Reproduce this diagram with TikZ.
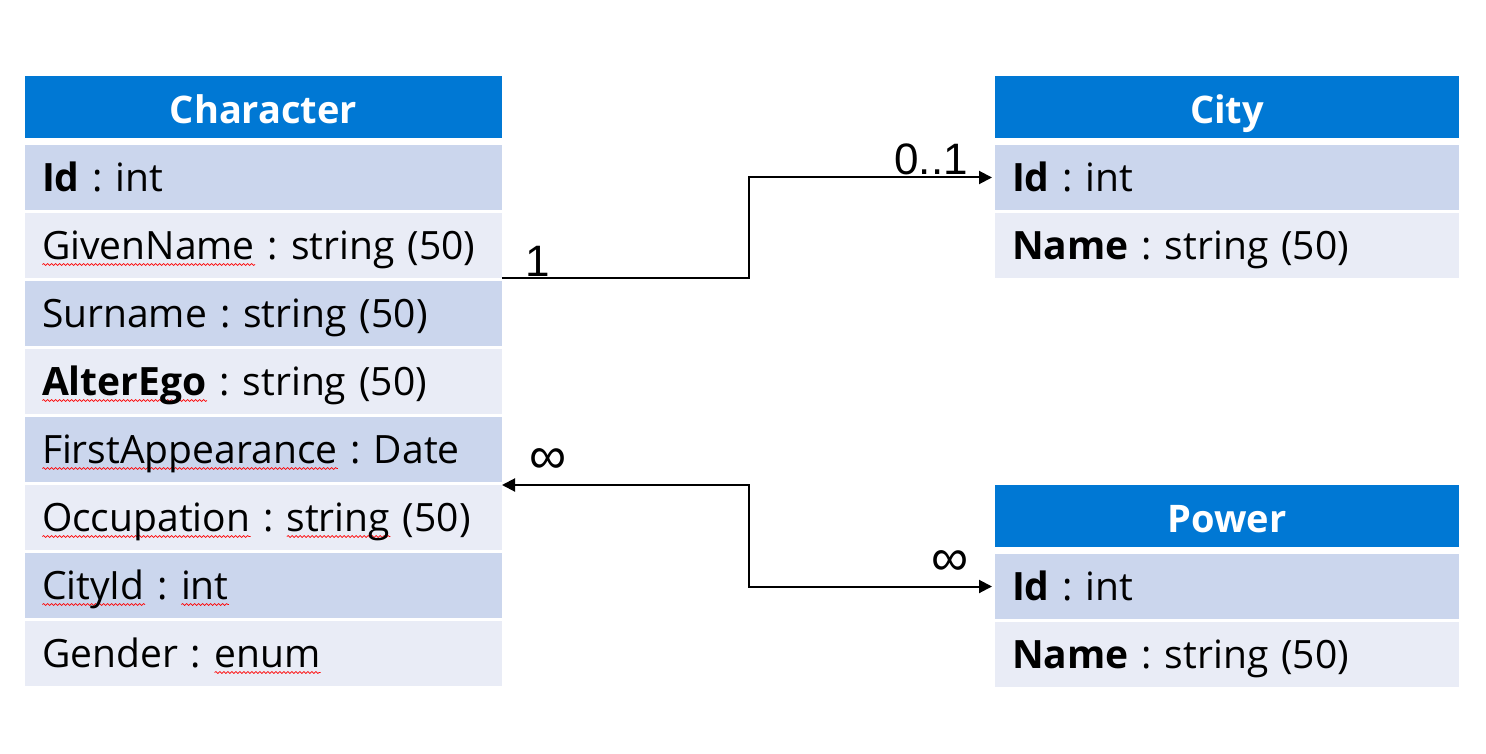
\documentclass[tikz,border=0pt]{standalone}
\usepackage{fontspec}
\setmainfont{Open Sans}
\newfontfamily\labelfont{Liberation Sans}
\usetikzlibrary{arrows.meta, positioning, calc, decorations.pathmorphing}
\frenchspacing

\definecolor{hdblue}{RGB}{0,120,212}
\definecolor{rowdark}{RGB}{203,214,237}
\definecolor{rowlight}{RGB}{233,236,246}

% red wavy underline of the spell checker
\newsavebox{\spellbox}
\newcommand{\spellchk}[1]{\sbox{\spellbox}{#1}\rlap{\raisebox{-5pt}{\tikz[baseline=0pt]\draw[red, line width=0.7pt, decorate, decoration={snake, amplitude=0.9pt, segment length=4pt}] (0pt,0pt) -- (\the\wd\spellbox,0pt);}}\usebox{\spellbox}}

\begin{document}
\begin{tikzpicture}[x=1pt, y=-1pt]
	\tikzset{>={Triangle[length=13pt, width=13pt]}, node distance=3pt,
		tbl/.style={rectangle, outer sep=0pt, inner xsep=17pt, inner ysep=0pt},
		head/.style={tbl, fill=hdblue, text=white, align=center, minimum height=62pt, text height=33pt, text depth=0pt, font=\bfseries\fontsize{38}{44}\selectfont},
		row/.style={tbl, align=left, minimum height=65pt, text height=28pt, text depth=0pt, font=\fontsize{39}{46}\selectfont},
		dark/.style={row, fill=rowdark},
		light/.style={row, fill=rowlight},
		wide/.style={minimum width=477pt, text width=443pt},
		slim/.style={minimum width=464pt, text width=430pt},
		card/.style={font=\labelfont\fontsize{44}{48}\selectfont, inner sep=0pt},
		many/.style={font=\labelfont\fontsize{52}{56}\selectfont, inner sep=0pt},
		rel/.style={->, line width=2pt}
	}
	\useasboundingbox (0,0) rectangle (1486,754);
	
	% Character
	\node[head, wide, anchor=north west] (char) at (25,76) {Character};
	\node[dark, wide, below=7pt of char] (cid) {\textbf{Id} : int};
	\node[light, wide, below=of cid] (cgiven) {\spellchk{GivenName} : string (50)};
	\node[dark, wide, below=of cgiven] (csur) {Surname : string (50)};
	\node[light, wide, below=of csur] (calter) {{\bfseries\spellchk{AlterEgo}} : string (50)};
	\node[dark, wide, below=of calter] (cfirst) {\spellchk{FirstAppearance} : Date};
	\node[light, wide, below=of cfirst] (cocc) {\spellchk{Occupation} : \spellchk{string} (50)};
	\node[dark, wide, below=of cocc] (ccity) {\spellchk{CityId} : \spellchk{int}};
	\node[light, wide, below=of ccity] (cgender) {Gender : \spellchk{enum}};
	
	% City
	\node[head, slim, anchor=north west] (city) at (995,76) {City};
	\node[dark, slim, below=7pt of city] (yid) {\textbf{Id} : int};
	\node[light, slim, below=of yid] (yname) {\textbf{Name} : string (50)};
	
	% Power
	\node[head, slim, anchor=north west] (power) at (995,485) {Power};
	\node[dark, slim, below=7pt of power] (pid) {\textbf{Id} : int};
	\node[light, slim, below=of pid] (pname) {\textbf{Name} : string (50)};
	
	\draw[rel, shorten >=3pt] (cgiven.south east) -| ($(cgiven.south east)!.5!(yid.west)$) |- (yid.west);
	\draw[rel, <->, shorten >=3pt] (cocc.north east) -| ($(cocc.north east)!.5!(pid.west)$) |- (pid.west);
	
	\node[card, anchor=south west] (one) at ([xshift=23pt, yshift=1pt]cgiven.south east) {1};
	\node[card, anchor=south east] (zeroone) at ([xshift=-27pt, yshift=2pt]yid.west) {0..1};
	\node[many] (manyc) at ([xshift=46pt, yshift=24pt]cocc.north east) {∞};
	\node[many] (manyp) at ([xshift=-45pt, yshift=23pt]pid.west) {∞};
\end{tikzpicture}
\end{document}
